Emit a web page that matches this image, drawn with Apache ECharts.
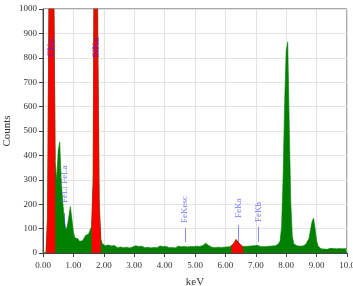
<!DOCTYPE html>
<html>
<head>
<meta charset="utf-8">
<script src="https://cdn.jsdelivr.net/npm/echarts@6/dist/echarts.min.js"></script>
<style>
  html, body { margin: 0; padding: 0; background: #fff; }
  #chart { width: 353px; height: 286px; }
</style>
</head>
<body>
<div id="chart"></div>
<script>
// spectrum channels: 0.00 .. 10.00 keV, 0.05 keV per channel
const channelWidth = 0.05
const counts = [
  0, 0, 0, 150, 1100, 20000, 20000, 1200, 380, 300, 420, 455, 290, 210, 135, 95, 110, 150, 190, 140,
  85, 62, 55, 58, 48, 55, 50, 58, 72, 70, 78, 75, 110, 300, 1800, 2500, 900, 200, 60, 38,
  32, 30, 27, 33, 25, 29, 24, 31, 26, 22, 30, 25, 28, 22, 30, 24, 27, 21, 29, 25,
  23, 30, 24, 27, 21, 28, 25, 22, 29, 24, 26, 21, 28, 23, 27, 22, 25, 29, 23, 26,
  21, 27, 24, 22, 28, 23, 26, 21, 25, 28, 22, 26, 23, 27, 21, 25, 23, 27, 22, 26,
  24, 28, 23, 27, 25, 30, 33, 40, 36, 31, 27, 24, 28, 22, 26, 24, 27, 23, 26, 24,
  28, 25, 27, 26, 30, 36, 42, 55, 48, 40, 33, 28, 25, 27, 24, 28, 26, 29, 27, 30,
  28, 32, 29, 27, 30, 26, 29, 27, 31, 28, 32, 29, 33, 30, 35, 38, 50, 110, 320, 620,
  830, 865, 520, 210, 70, 38, 33, 30, 32, 28, 31, 29, 33, 36, 42, 60, 95, 128, 143, 100,
  50, 28, 20, 17, 19, 16, 18, 15, 17, 19, 16, 18, 15, 17, 16, 18, 15, 17, 16, 18,
  17
]

// regions of interest drawn in red
const roiStart = [0.10, 1.60, 6.20]
const roiEnd = [0.40, 1.90, 6.60]

// peak markers
const markerNames = ['CKa', 'SiKa', 'FeLl FeLa', 'FeKesc', 'FeKa', 'FeKb']
const markerKeV = [0.29, 1.76, 0.71, 4.67, 6.42, 7.08]
const markerLabelBase = [803, 800, 205, 123, 143, 127]
const markerLineLo = [null, null, 102, 45, 41, 45]
const markerLineHi = [null, null, 164, 102, 115, 107]
const markerColor = ['#5b18e8', '#5b18e8', '#5555ee', '#5555ee', '#5555ee', '#5555ee']

const chartInstance = echarts.init(document.getElementById('chart'))

const spectrum = counts.map((c, i) => [+(i * channelWidth).toFixed(2), c])
const inRoi = e => roiStart.some((s, k) => e >= s - 1e-6 && e <= roiEnd[k] + 1e-6)
const roiData = spectrum.map(p => (inRoi(p[0]) ? p : [p[0], null]))

const markerData = markerNames.map((name, i) => ({
  name: name,
  value: [markerKeV[i], markerLabelBase[i]],
  label: { color: markerColor[i], fontSize: i < 2 ? 10 : 9 }
}))
const markerLines = []
markerNames.forEach((name, i) => {
  if (markerLineLo[i] !== null) {
    markerLines.push([{ coord: [markerKeV[i], markerLineLo[i]] }, { coord: [markerKeV[i], markerLineHi[i]] }])
  }
})

const font = 'Liberation Serif'

const option = {
  animation: false,
  grid: {
    left: 43,
    right: 6,
    top: 9,
    bottom: 33,
    outerBoundsMode: 'none',
    containLabel: false,
    show: true,
    borderColor: '#555',
    borderWidth: 1
  },
  xAxis: {
    type: 'value',
    min: 0,
    max: 10,
    interval: 1,
    name: 'keV',
    nameLocation: 'middle',
    nameGap: 24,
    nameMoveOverlap: false,
    nameTextStyle: { fontFamily: font, fontSize: 11, color: '#333' },
    axisLine: { onZero: false, lineStyle: { color: '#444' } },
    axisTick: { show: true, length: 4, lineStyle: { color: '#444' } },
    axisLabel: {
      fontFamily: font,
      fontSize: 9,
      color: '#333',
      margin: 8,
      formatter: v => (v < 10 ? v.toFixed(2) : v.toFixed(1))
    },
    splitLine: { show: true, lineStyle: { color: '#e3e3e3' } }
  },
  yAxis: {
    type: 'value',
    min: 0,
    max: 1000,
    interval: 100,
    name: 'Counts',
    nameLocation: 'middle',
    nameGap: 30,
    nameMoveOverlap: false,
    nameTextStyle: { fontFamily: font, fontSize: 11, color: '#333' },
    axisLine: { show: true, lineStyle: { color: '#444' } },
    axisTick: { show: true, length: 4, lineStyle: { color: '#444' } },
    axisLabel: { fontFamily: font, fontSize: 9, color: '#333', margin: 6, formatter: v => String(v) },
    splitLine: { show: true, lineStyle: { color: '#e3e3e3' } }
  },
  series: [
    {
      type: 'line',
      data: spectrum,
      symbol: 'none',
      clip: true,
      lineStyle: { color: '#008000', width: 0.6 },
      areaStyle: { color: '#008000', opacity: 1 }
    },
    {
      type: 'line',
      data: roiData,
      symbol: 'none',
      clip: true,
      connectNulls: false,
      lineStyle: { color: '#ff0000', width: 0.6 },
      areaStyle: { color: '#ff0000', opacity: 1 }
    },
    {
      type: 'scatter',
      z: 10,
      data: markerData,
      symbolSize: 0,
      itemStyle: { color: 'transparent' },
      labelLayout: { hideOverlap: false },
      label: {
        show: true,
        position: 'inside',
        rotate: 90,
        align: 'left',
        verticalAlign: 'middle',
        fontFamily: font,
        fontSize: 9,
        textBorderWidth: 0,
        formatter: p => p.name
      },
      markLine: {
        silent: true,
        symbol: 'none',
        label: { show: false },
        lineStyle: { color: 'rgba(40,40,255,0.55)', width: 1, type: 'solid' },
        data: markerLines
      }
    }
  ]
}

chartInstance.setOption(option)
</script>
</body>
</html>
